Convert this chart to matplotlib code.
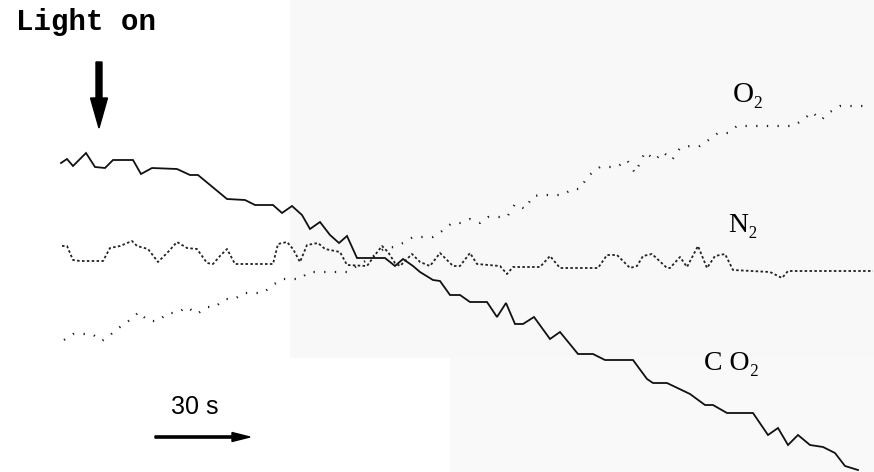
import matplotlib.pyplot as plt
from matplotlib.patches import Rectangle

# trace values (horizontal = time, vertical = signal, chart units)
co2_x = [61, 67, 73, 86, 95, 105, 113, 133, 141, 152, 177, 190, 198, 227, 245, 255,
         273, 282, 292, 302, 310, 320, 330, 339, 347, 357, 385, 395, 403, 413, 420,
         433, 440, 450, 460, 470, 487, 497, 506, 515, 523, 534, 550, 560, 578, 593,
         605, 633, 647, 653, 667, 690, 705, 713, 727, 753, 768, 778, 788, 798, 810,
         823, 835, 845, 858]
co2_y = [163, 159, 166, 153, 167, 168, 160, 160, 174, 168, 169, 175, 175, 199, 200, 205,
         205, 213, 206, 215, 229, 222, 235, 243, 236, 258, 258, 266, 259, 266, 272,
         280, 281, 295, 295, 302, 302, 317, 303, 324, 324, 317, 339, 332, 354, 354,
         360, 360, 379, 383, 383, 394, 405, 405, 413, 413, 435, 428, 445, 435, 445,
         447, 453, 466, 470]

o2_x = [64, 73, 83, 92, 102, 110, 120, 130, 139, 148, 158, 168, 177, 187, 197, 207,
        215, 225, 235, 243, 253, 263, 273, 282, 292, 300, 309, 319, 328, 338, 347,
        357, 367, 375, 385, 394, 403, 413, 423, 433, 442, 452, 460, 470, 480, 488,
        498, 507, 515, 525, 533, 543, 553, 563, 572, 580, 588, 600, 608, 617, 627,
        635, 640, 645, 655, 663, 672, 680, 690, 700, 710, 718, 728, 737, 747, 755,
        765, 773, 783, 793, 803, 812, 821, 830, 840, 850, 860, 870]
o2_y = [340, 334, 334, 334, 341, 335, 327, 320, 312, 321, 321, 313, 313, 307, 314, 307,
        307, 299, 299, 293, 293, 293, 285, 279, 279, 279, 272, 272, 272, 272, 272,
        266, 260, 255, 248, 247, 243, 237, 237, 237, 231, 223, 223, 219, 223, 217,
        217, 217, 204, 209, 196, 195, 195, 195, 189, 189, 176, 167, 167, 167, 160,
        173, 163, 152, 160, 152, 160, 148, 146, 146, 139, 133, 133, 126, 126, 126,
        126, 126, 126, 126, 120, 112, 120, 112, 106, 106, 106, 106]

n2_x = [62, 67, 70, 73, 80, 103, 110, 120, 132, 137, 148, 158, 168, 177, 187, 197,
        207, 213, 220, 227, 235, 273, 278, 287, 293, 300, 307, 318, 325, 340, 347,
        367, 375, 382, 388, 395, 400, 412, 420, 430, 440, 453, 460, 470, 477, 500,
        507, 513, 540, 550, 560, 598, 607, 617, 630, 637, 643, 652, 667, 670, 680,
        687, 698, 707, 715, 725, 733, 770, 782, 788, 873]
n2_y = [246, 246, 253, 260, 261, 261, 248, 246, 241, 246, 249, 262, 252, 242, 248, 249,
        263, 264, 256, 249, 264, 264, 244, 242, 249, 262, 245, 243, 249, 252, 265,
        266, 255, 246, 252, 263, 266, 254, 262, 266, 253, 266, 266, 253, 264, 266,
        274, 267, 267, 256, 268, 268, 255, 255, 268, 266, 256, 254, 268, 268, 257,
        267, 246, 268, 256, 254, 270, 272, 278, 271, 271]

fig = plt.figure(figsize=(8.74, 4.72), dpi=100)
ax = fig.add_axes([0, 0, 1, 1])
ax.set_xlim(0, 874)
ax.set_ylim(472, 0)
ax.axis('off')

# faint grey of the scanned page
ax.add_patch(Rectangle((290, 0), 584, 358, facecolor='#f8f8f8', edgecolor='none', zorder=0))
ax.add_patch(Rectangle((450, 358), 424, 114, facecolor='#f9f9f9', edgecolor='none', zorder=0))

ax.plot(co2_x, co2_y, color='#111111', lw=1.3, solid_joinstyle='miter')
ax.plot(o2_x, o2_y, color='#222222', lw=1.6, dashes=[0.6, 4.2])
ax.plot(n2_x, n2_y, color='#222222', lw=1.3, dashes=[1.4, 1.3])

ax.text(748, 95, 'O₂', fontsize=21, ha='center', va='center',
        family=['Liberation Serif', 'DejaVu Serif'])
ax.text(743, 225, 'N₂', fontsize=20, ha='center', va='center',
        family=['Liberation Serif', 'DejaVu Serif'])
ax.text(732, 363, 'C O₂', fontsize=20, ha='center', va='center',
        family=['Liberation Serif', 'DejaVu Serif'])

ax.text(86, 22, 'Light on', fontsize=21, ha='center', va='center',
        family='Liberation Mono', fontweight='bold')
ax.arrow(99, 62, 0, 66, width=6, head_width=17, head_length=30,
         length_includes_head=True, color='black')

ax.text(195, 407, '30 s', fontsize=18, ha='center', va='center',
        family='Liberation Sans')
ax.arrow(155, 437, 95, 0, width=2.2, head_width=9, head_length=18,
         length_includes_head=True, color='black')

fig.savefig('out.png', dpi=100)
